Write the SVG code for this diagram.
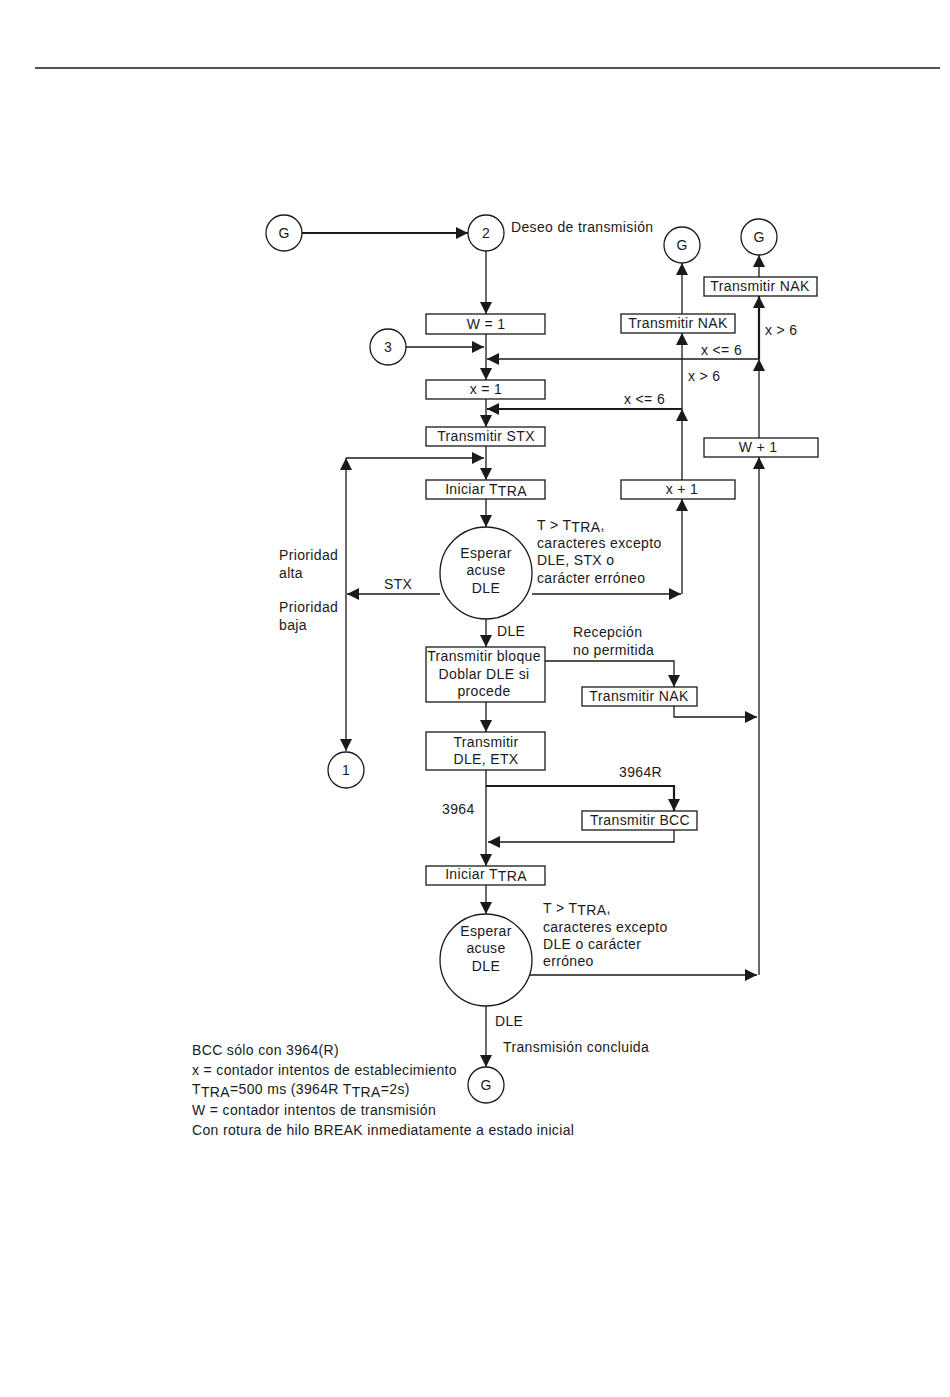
<svg xmlns="http://www.w3.org/2000/svg" width="950" height="1397" viewBox="0 0 950 1397">
<style>
text{font-family:"Liberation Sans",Arial,sans-serif;font-size:14px;fill:#1a1a1a;letter-spacing:0.35px}
.c{text-anchor:middle}
.n{fill:#fff;stroke:#1a1a1a;stroke-width:1.3}
.l{fill:none;stroke:#1a1a1a;stroke-width:1.3}
.t{fill:none;stroke:#1a1a1a;stroke-width:2.2}
</style>
<defs>
<marker id="a" markerUnits="userSpaceOnUse" markerWidth="12" markerHeight="12" refX="11" refY="5.5" orient="auto" viewBox="0 0 11 11">
<path d="M0,0 L11,5.5 L0,11 z" fill="#1a1a1a"/>
</marker>
</defs>
<rect width="950" height="1397" fill="#fff"/>
<line x1="35" y1="68" x2="940" y2="68" stroke="#1a1a1a" stroke-width="1.3"/>

<g id="connectors">
<line class="t" x1="302" y1="233" x2="468" y2="233" marker-end="url(#a)"/>
<line class="l" x1="486" y1="251" x2="486" y2="314" marker-end="url(#a)"/>
<line class="l" x1="486" y1="334" x2="486" y2="380" marker-end="url(#a)"/>
<line class="l" x1="406" y1="347" x2="484" y2="347" marker-end="url(#a)"/>
<line class="l" x1="759" y1="359" x2="487" y2="359" marker-end="url(#a)"/>
<line class="l" x1="486" y1="399" x2="486" y2="427" marker-end="url(#a)"/>
<line class="t" x1="682" y1="409" x2="487" y2="409" marker-end="url(#a)"/>
<line class="l" x1="486" y1="446" x2="486" y2="480" marker-end="url(#a)"/>
<line class="l" x1="346" y1="458" x2="484" y2="458" marker-end="url(#a)"/>
<line class="l" x1="346" y1="594" x2="346" y2="458" marker-end="url(#a)"/>
<line class="l" x1="346" y1="594" x2="346" y2="751" marker-end="url(#a)"/>
<line class="l" x1="440" y1="594" x2="347" y2="594" marker-end="url(#a)"/>
<line class="l" x1="486" y1="499" x2="486" y2="527" marker-end="url(#a)"/>
<line class="l" x1="532" y1="594" x2="681" y2="594" marker-end="url(#a)"/>
<line class="l" x1="682" y1="594" x2="682" y2="499" marker-end="url(#a)"/>
<line class="l" x1="682" y1="480" x2="682" y2="409" marker-end="url(#a)"/>
<line class="l" x1="682" y1="409" x2="682" y2="333" marker-end="url(#a)"/>
<line class="l" x1="682" y1="314" x2="682" y2="263" marker-end="url(#a)"/>
<line class="l" x1="759" y1="975" x2="759" y2="457" marker-end="url(#a)"/>
<line class="l" x1="759" y1="438" x2="759" y2="359" marker-end="url(#a)"/>
<line class="t" x1="759" y1="359" x2="759" y2="296" marker-end="url(#a)"/>
<line class="l" x1="759" y1="277" x2="759" y2="255" marker-end="url(#a)"/>
<line class="l" x1="486" y1="619" x2="486" y2="647" marker-end="url(#a)"/>
<path class="l" d="M545,661 H674 V687" marker-end="url(#a)"/>
<path class="l" d="M674,706 V717 H757" marker-end="url(#a)"/>
<line class="l" x1="486" y1="702" x2="486" y2="732" marker-end="url(#a)"/>
<line class="l" x1="486" y1="770" x2="486" y2="866" marker-end="url(#a)"/>
<path class="t" d="M486,786 H674 V811" marker-end="url(#a)"/>
<path class="l" d="M674,830 V842 H488" marker-end="url(#a)"/>
<line class="l" x1="486" y1="885" x2="486" y2="914" marker-end="url(#a)"/>
<line class="l" x1="530" y1="975" x2="757" y2="975" marker-end="url(#a)"/>
<line class="l" x1="486" y1="1006" x2="486" y2="1067" marker-end="url(#a)"/>
</g>

<g id="nG1"><circle class="n" cx="284" cy="233" r="18"/><text class="c" x="284" y="238">G</text></g>
<g id="n2"><circle class="n" cx="486" cy="233" r="18"/><text class="c" x="486" y="238">2</text></g>
<g id="nG2"><circle class="n" cx="682" cy="245" r="18"/><text class="c" x="682" y="250">G</text></g>
<g id="nG3"><circle class="n" cx="759" cy="237" r="18"/><text class="c" x="759" y="242">G</text></g>
<g id="n3"><circle class="n" cx="388" cy="347" r="18"/><text class="c" x="388" y="352">3</text></g>
<g id="n1"><circle class="n" cx="346" cy="770" r="18"/><text class="c" x="346" y="775">1</text></g>
<g id="nG4"><circle class="n" cx="486" cy="1085" r="18"/><text class="c" x="486" y="1090">G</text></g>

<g id="bW1"><rect class="n" x="426" y="314" width="119" height="20"/><text class="c" x="486" y="329">W = 1</text></g>
<g id="bx1"><rect class="n" x="426" y="380" width="119" height="19"/><text class="c" x="486" y="394">x = 1</text></g>
<g id="bSTX"><rect class="n" x="426" y="427" width="119" height="19"/><text class="c" x="486" y="441">Transmitir STX</text></g>
<g id="bIni1"><rect class="n" x="426" y="480" width="119" height="19"/><text class="c" x="486" y="494">Iniciar T<tspan dy="2">TRA</tspan></text></g>
<g id="cEsp1"><circle class="n" cx="486" cy="573" r="46"/><text class="c" x="486" y="558">Esperar</text><text class="c" x="486" y="575">acuse</text><text class="c" x="486" y="593">DLE</text></g>
<g id="bBloque"><rect class="n" x="426" y="647" width="119" height="55"/><text class="c" x="484" y="661">Transmitir bloque</text><text class="c" x="484" y="679">Doblar DLE si</text><text class="c" x="484" y="696">procede</text></g>
<g id="bDLEETX"><rect class="n" x="426" y="732" width="119" height="38"/><text class="c" x="486" y="747">Transmitir</text><text class="c" x="486" y="764">DLE, ETX</text></g>
<g id="bIni2"><rect class="n" x="426" y="866" width="119" height="19"/><text class="c" x="486" y="879">Iniciar T<tspan dy="2">TRA</tspan></text></g>
<g id="cEsp2"><circle class="n" cx="486" cy="960" r="46"/><text class="c" x="486" y="936">Esperar</text><text class="c" x="486" y="953">acuse</text><text class="c" x="486" y="971">DLE</text></g>
<g id="bNAK1"><rect class="n" x="621" y="314" width="114" height="19"/><text class="c" x="678" y="328">Transmitir NAK</text></g>
<g id="bNAK2"><rect class="n" x="704" y="277" width="113" height="19"/><text class="c" x="760" y="291">Transmitir NAK</text></g>
<g id="bW1p"><rect class="n" x="704" y="438" width="114" height="19"/><text class="c" x="758" y="452">W + 1</text></g>
<g id="bx1p"><rect class="n" x="621" y="480" width="114" height="19"/><text class="c" x="682" y="494">x + 1</text></g>
<g id="bNAK3"><rect class="n" x="582" y="687" width="115" height="19"/><text class="c" x="639" y="701">Transmitir NAK</text></g>
<g id="bBCC"><rect class="n" x="582" y="811" width="115" height="19"/><text class="c" x="640" y="825">Transmitir BCC</text></g>

<g id="labels">
<text x="511" y="232">Deseo de transmisión</text>
<text x="765" y="335">x &gt; 6</text>
<text x="701" y="355">x &lt;= 6</text>
<text x="688" y="381">x &gt; 6</text>
<text x="624" y="404">x &lt;= 6</text>
<text x="537" y="530">T &gt; T<tspan dy="2">TRA</tspan><tspan dy="-2">,</tspan></text>
<text x="537" y="548">caracteres excepto</text>
<text x="537" y="565">DLE, STX o</text>
<text x="537" y="583">carácter erróneo</text>
<text x="279" y="560">Prioridad</text>
<text x="279" y="578">alta</text>
<text x="279" y="612">Prioridad</text>
<text x="279" y="630">baja</text>
<text x="384" y="589">STX</text>
<text x="497" y="636">DLE</text>
<text x="573" y="637">Recepción</text>
<text x="573" y="655">no permitida</text>
<text x="619" y="777">3964R</text>
<text x="442" y="814">3964</text>
<text x="543" y="913">T &gt; T<tspan dy="2">TRA</tspan><tspan dy="-2">,</tspan></text>
<text x="543" y="932">caracteres excepto</text>
<text x="543" y="949">DLE o carácter</text>
<text x="543" y="966">erróneo</text>
<text x="495" y="1026">DLE</text>
<text x="503" y="1052">Transmisión concluida</text>
<text x="192" y="1055">BCC sólo con 3964(R)</text>
<text x="192" y="1075">x = contador intentos de establecimiento</text>
<text x="192" y="1094">T<tspan dy="3">TRA</tspan><tspan dy="-3">=500 ms (3964R T</tspan><tspan dy="3">TRA</tspan><tspan dy="-3">=2s)</tspan></text>
<text x="192" y="1115">W = contador intentos de transmisión</text>
<text x="192" y="1135">Con rotura de hilo BREAK inmediatamente a estado inicial</text>
</g>
</svg>
